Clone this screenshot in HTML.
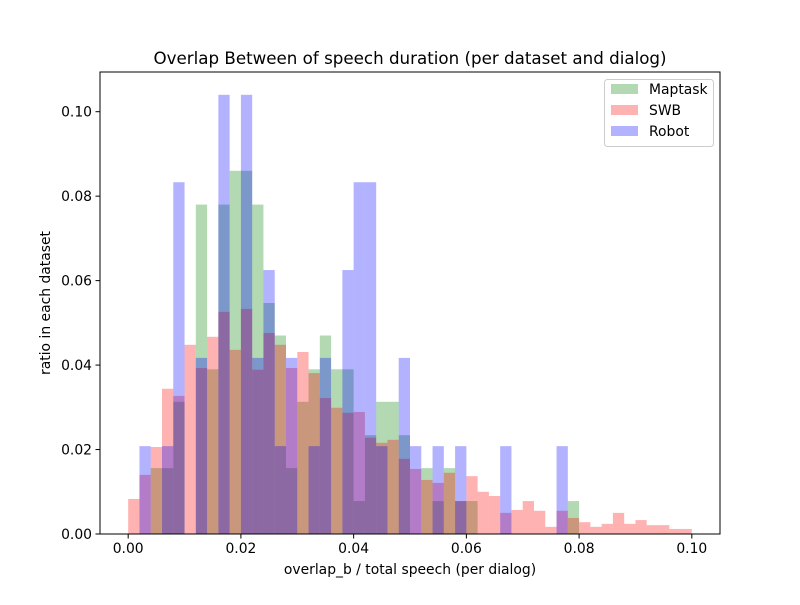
<!DOCTYPE html>
<html><head><meta charset="utf-8"><style>
body{margin:0;background:#fff;}
svg text{font-family:"DejaVu Sans","Liberation Sans",sans-serif;fill:#000;}
</style></head><body>
<svg id="chart" width="800" height="600" xmlns="http://www.w3.org/2000/svg">
<rect width="800" height="600" fill="#fff"/>
<g id="bars"></g>
<g id="axes"></g>
</svg>
<script>
const binStart = 0, binWidth = 0.002;
const maptask = [0,0,0.0156,0.0156,0.0313,0,0.078,0.039,0.078,0.086,0.086,0.078,0.0547,0.047,0.0156,0.0313,0.039,0.047,0.039,0.039,0.0078,0.0234,0.0313,0.0313,0.0234,0,0.0156,0.0078,0.0156,0.0078,0.0078,0,0,0,0,0,0,0,0,0.0078,0,0,0,0,0,0,0,0,0,0];
const swb = [0.0083,0.014,0.0206,0.0344,0.0327,0.0448,0.0393,0.0467,0.0526,0.0436,0.0533,0.0389,0.0476,0.0448,0.0393,0.0431,0.0381,0.0322,0.0299,0.0287,0.0289,0.0228,0.0216,0.0223,0.0178,0.0154,0.0128,0.0121,0.0145,0.0078,0.0137,0.01,0.009,0.005,0.0057,0.0078,0.0055,0.0017,0.0055,0.0038,0.0028,0.0017,0.0024,0.005,0.0024,0.0033,0.0021,0.0021,0.0012,0.0012];
const robot = [0,0.0208,0,0.0208,0.0833,0,0.0417,0,0.104,0,0.104,0.0417,0.0625,0.0208,0.0417,0,0.0208,0.0417,0,0.0625,0.0833,0.0833,0.0208,0,0.0417,0.0208,0,0.0208,0,0.0208,0,0,0,0.0208,0,0,0,0,0.0208,0,0,0,0,0,0,0,0,0,0,0];
const xTicks = [0.00,0.02,0.04,0.06,0.08,0.10];
const yTicks = [0.00,0.02,0.04,0.06,0.08,0.10];
const seriesNames = ["Maptask","SWB","Robot"];

const L=100,R=720,T=72,B=534;
const xmin=-0.005,xmax=0.105,ymax=0.1094;
const X=v=>L+(v-xmin)/(xmax-xmin)*(R-L);
const Y=v=>B-v/ymax*(B-T);
const NS="http://www.w3.org/2000/svg";
function mk(tag,attrs,parent){const e=document.createElementNS(NS,tag);for(const k in attrs)e.setAttribute(k,attrs[k]);parent.appendChild(e);return e;}
const bars=document.getElementById('bars'), axes=document.getElementById('axes'), svg=document.getElementById('chart');
const series=[[maptask,'rgba(0,128,0,0.3)','maptask'],[swb,'rgba(255,0,0,0.3)','swb'],[robot,'rgba(0,0,255,0.3)','robot']];
series.forEach(([vals,col,nm])=>{
  vals.forEach((v,i)=>{
    if(v<=0)return;
    const x0=X(binStart+i*binWidth),x1=X(binStart+(i+1)*binWidth);
    const r=mk('rect',{x:x0,y:Y(v),width:x1-x0,height:B-Y(v),fill:col},bars);
    
    
  });
});
const frame=mk('rect',{x:L,y:T,width:R-L,height:B-T,fill:'none',stroke:'#000','stroke-width':1},axes);


xTicks.forEach(t=>{
  const x=X(t);
  mk('line',{x1:x,x2:x,y1:B,y2:B+4.5,stroke:'#000'},axes);
  const tx=mk('text',{x:x,y:B+19,'text-anchor':'middle','font-size':'13.9'},axes);
  tx.textContent=t.toFixed(2);
  
  
});
yTicks.forEach(t=>{
  const y=Y(t);
  mk('line',{x1:L,x2:L-4.5,y1:y,y2:y,stroke:'#000'},axes);
  const tx=mk('text',{x:L-8,y:y+5,'text-anchor':'end','font-size':'13.9'},axes);
  tx.textContent=t.toFixed(2);
  
  
});
</script>
<svg style="position:absolute;left:0;top:0" width="800" height="600" xmlns="http://www.w3.org/2000/svg">
<text x="410" y="64" text-anchor="middle" font-size="16.7">Overlap Between of speech duration (per dataset and dialog)</text>
<text x="410" y="574" text-anchor="middle" font-size="13.9">overlap_b / total speech (per dialog)</text>
<text x="50" y="303" text-anchor="middle" font-size="13.9" transform="rotate(-90 50 303)">ratio in each dataset</text>
<g>
<rect x="604.5" y="79.5" width="109" height="67" rx="3" fill="#fff" fill-opacity="0.8" stroke="#ccc"/>
<g><rect x="611" y="84" width="27" height="10" fill="rgba(0,128,0,0.3)"/><text x="649" y="94" font-size="13.9">Maptask</text></g>
<g><rect x="611" y="105" width="27" height="10" fill="rgba(255,0,0,0.3)"/><text x="649" y="115" font-size="13.9">SWB</text></g>
<g><rect x="611" y="126" width="27" height="10" fill="rgba(0,0,255,0.3)"/><text x="649" y="136" font-size="13.9">Robot</text></g>
</g>
</svg>
</body></html>
